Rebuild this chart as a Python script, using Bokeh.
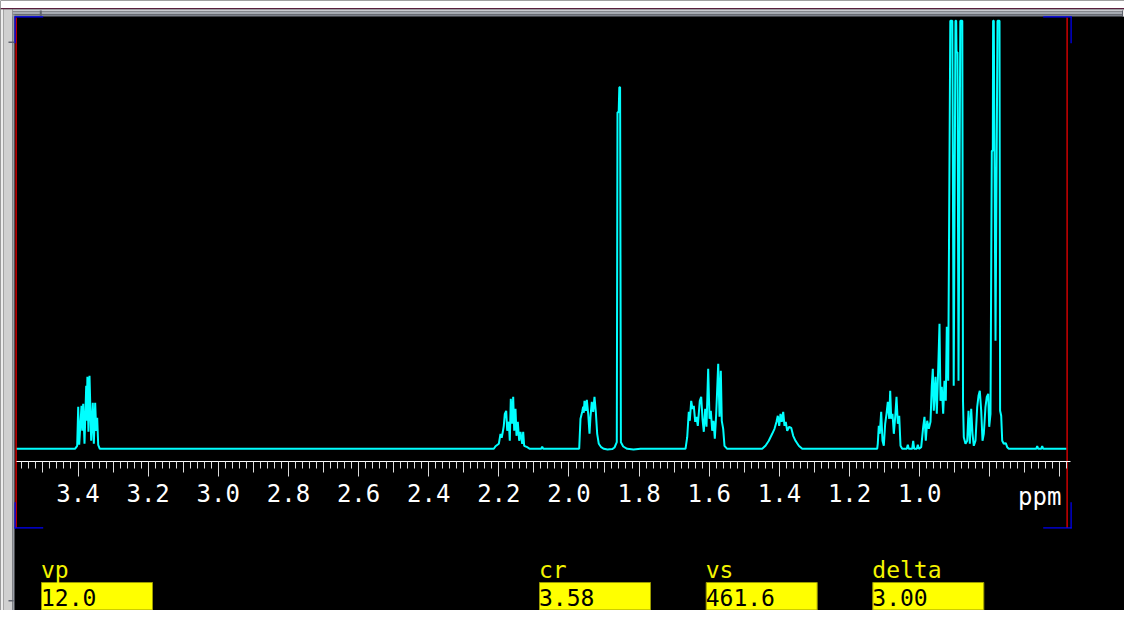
from bokeh.plotting import figure
from bokeh.models import (Range1d, LinearAxis, FixedTicker, PrintfTickFormatter,
                          CustomJSTickFormatter, Label)
from bokeh.embed import file_html
from bokeh.resources import INLINE

W, H = 1124, 610

# ---------------- spectrum data (chemical shift in ppm, intensity a.u.) -------------
ppm_start, int_start = [3.576], [0]

ppm_A = [3.4086, 3.4023, 3.3994, 3.3966, 3.3900, 3.3877, 3.3852, 3.3815, 3.3766, 3.3752,
         3.3732, 3.3703, 3.3672, 3.3624, 3.3578, 3.3549, 3.3510, 3.3481, 3.3453, 3.3424, 3.3378]
int_A = [0, 3, 42, 4, 43, 18, 45, 5, 63, 28, 72, 17, 73, 8, 46, 5, 46, 18, 31, 4, 0]

ppm_B = [2.2144, 2.2095, 2.2001, 2.1953, 2.1919, 2.1887, 2.1859, 2.1830, 2.1790, 2.1762,
         2.1716, 2.1688, 2.1659, 2.1619, 2.1591, 2.1562, 2.1525, 2.1497, 2.1460, 2.1420,
         2.1383, 2.1334, 2.1306, 2.1278, 2.1192, 2.1117, 2.0792, 2.0764, 2.0735]
int_B = [0, 2.6, 5, 15, 11, 17, 23, 35, 38, 18, 27, 8, 50, 25, 52, 18, 40, 13, 27, 8,
         17, 5, 17, 3, 1.6, 0, 0, 2, 0]

ppm_C = [1.9709, 1.9672, 1.9623, 1.9595, 1.9578, 1.9558, 1.9521, 1.9492, 1.9452, 1.9415,
         1.9387, 1.9350, 1.9310, 1.9273, 1.9235, 1.9196, 1.9150, 1.9082, 1.9007, 1.8902, 1.8768]
int_C = [0, 30, 37, 42, 36, 48, 38, 49, 35, 15, 32, 47, 37, 52, 37, 15, 5, 1.6, 0, -0.7, -0.3]

ppm_S = [1.8702, 1.8637, 1.8617, 1.8583, 1.8565, 1.8543, 1.8520, 1.8454, 1.8340, 1.8161, 1.7961]
int_S = [1.3, 6.6, 336.6, 336.6, 361.6, 361.6, 6.6, 2.3, 0, -0.7, 0]

ppm_D = [1.6678, 1.6629, 1.6584, 1.6555, 1.6515, 1.6478, 1.6441, 1.6401, 1.6364, 1.6327,
         1.6270, 1.6230, 1.6193, 1.6156, 1.6116, 1.6079, 1.6031, 1.5993, 1.5956, 1.5916,
         1.5879, 1.5842, 1.5802, 1.5745, 1.5708, 1.5671, 1.5643, 1.5603, 1.5566, 1.5489]
int_D = [0, 11.6, 37, 28, 48, 40, 43, 27, 32, 23, 48, 52, 30, 17, 40, 22, 80, 30, 38, 18,
         28, 10, 35, 85, 32, 78, 28, 20, 3, 0]

ppm_E = [1.4491, 1.4397, 1.4303, 1.4206, 1.4140, 1.4083, 1.4046, 1.4006, 1.3969, 1.3932,
         1.3892, 1.3855, 1.3818, 1.3778, 1.3721, 1.3664, 1.3607, 1.3541, 1.3447, 1.3350]
int_E = [0, 3, 8, 15, 20, 27, 33, 23, 35, 27, 37, 23, 27, 18, 22, 21, 13, 8, 3, 0]

ppm_F = [1.1212, 1.1195, 1.1166, 1.1138, 1.1098, 1.1061, 1.1023, 1.0984, 1.0946, 1.0909,
         1.0869, 1.0841, 1.0812, 1.0775, 1.0738, 1.0698, 1.0661, 1.0624, 1.0584, 1.0547,
         1.0499, 1.0368, 1.0339, 1.0311, 1.0214, 1.0185, 1.0157, 1.0082, 1.0054, 1.0025]
int_F = [0, 5, 23, 15, 37, 8, 3, 25, 35, 47, 30, 58, 30, 35, 15, 32, 52, 25, 33, 3,
         0, 0, 4, 0, 0, 8, 0, 0, 4, 0]

ppm_G = [0.9957, 0.9900, 0.9863, 0.9826, 0.9786, 0.9740, 0.9692, 0.9655, 0.9626, 0.9598,
         0.9549, 0.9512, 0.9472, 0.9435, 0.9407, 0.9370, 0.9330, 0.9293, 0.9256, 0.9227,
         0.9187, 0.9127, 0.9070, 0.9030, 0.8979, 0.8959, 0.8950, 0.8922, 0.8893, 0.8842,
         0.8785, 0.8765, 0.8742, 0.8694, 0.8645, 0.8608, 0.8571, 0.8531, 0.8494, 0.8457,
         0.8409, 0.8360, 0.8323, 0.8286, 0.8246, 0.8209, 0.8172, 0.8124, 0.8087, 0.8047,
         0.8018, 0.7981, 0.7944, 0.7915, 0.7907, 0.7887, 0.7838, 0.7781, 0.7724, 0.7707,
         0.7676, 0.7647, 0.7602, 0.7545, 0.7505, 0.7459]
int_G = [1.6, 22, 32, 8, 28, 20, 27, 63, 80, 38, 72, 35, 80, 125, 48, 62, 35, 68, 48, 122,
         68, 428, 428, 63, 428, 428, 396.6, 396.6, 68, 428, 428, 48, 11.6, 5, 8, 38, 5, 40, 15, 3,
         8, 42, 53, 58, 38, 8, 15, 42, 52, 55, 22, 35, 298, 298, 428, 428, 108, 428, 428, 38,
         33, 8, 5, 5.6, 1.6, 0]

ppm_T = [0.6678, 0.6649, 0.6621, 0.6535, 0.6507, 0.6478]
int_T = [0, 2.6, 0, 0, 2.6, 0]

ppm_end, int_end = [0.5814], [0]

shift = ppm_start + ppm_A + ppm_B + ppm_C + ppm_S + ppm_D + ppm_E + ppm_F + ppm_G + ppm_T + ppm_end
inten = int_start + int_A + int_B + int_C + int_S + int_D + int_E + int_F + int_G + int_T + int_end

# axis ticks
labeled_ticks = [3.4, 3.2, 3.0, 2.8, 2.6, 2.4, 2.2, 2.0, 1.8, 1.6, 1.4, 1.2, 1.0]
unlabeled_long_ticks = [0.8, 0.6]
medium_ticks = [3.5, 3.3, 3.1, 2.9, 2.7, 2.5, 2.3, 2.1, 1.9, 1.7, 1.5, 1.3, 1.1, 0.9, 0.7]
minor_ticks = [round(3.56 - 0.02 * i, 2) for i in range(150)]
axis_unit = "ppm"

# parameter panel
param_names = ["vp", "cr", "vs", "delta"]
param_values = ["12.0", "3.58", "461.6", "3.00"]

# ---------------- figure (layout coordinates = window pixels) ----------------
p = figure(width=W, height=H,
           x_range=Range1d(3.6210, 0.4160), y_range=Range1d(H, 0),
           x_axis_location=None, y_axis_location=None,
           toolbar_location=None, output_backend="svg",
           background_fill_color="black", border_fill_color="black",
           outline_line_color=None, min_border=0)
p.extra_x_ranges = {"px": Range1d(0, W)}
p.extra_y_ranges = {"int": Range1d(-161.7, 448.3)}
p.xgrid.grid_line_color = None
p.ygrid.grid_line_color = None
p.grid.visible = False

# window chrome
chrome = [
    (0, W, 0, 8, "#ffffff"),
    (0, W, 7.6, 8.8, "#5a1e3c"),
    (12, W, 8.8, 11, "#c8cacf"),
    (12, W, 11, 14, "#a6aab2"),
    (12, W, 14, 16, "#7e828c"),
    (0, 3, 8.8, H, "#ececec"),
    (3, 12, 8.8, H, "#d0d0d0"),
    (12, 14, 14, H, "#9a9ea6"),
    (39.3, 41.3, 10, 16, "#60646e"),
    (8, 14, 41, 42.5, "#60646e"),
    (8, 13, 599.5, 601, "#60646e"),
    (1121.5, 1122.5, 10, 16, "#60646e"),
    (1122.5, 1124, 10, 16, "#eeeeee"),
]
p.quad(left=[c[0] for c in chrome], right=[c[1] for c in chrome],
       top=[c[2] for c in chrome], bottom=[c[3] for c in chrome],
       fill_color=[c[4] for c in chrome], line_color=None, x_range_name="px")

# spectrum trace
p.line(x=shift, y=inten, y_range_name="int", line_color="#00ffff", line_width=2)

# red frame lines and blue corner brackets
marks = [
    (15, 16.2, 17, 527.5, "#ff0000"),
    (1066, 1067.2, 17, 527.5, "#ff0000"),
    (14, 42.7, 15.7, 16.9, "#0000ff"), (14, 15.2, 16, 42.7, "#0000ff"),
    (1042.7, 1071.2, 15.7, 16.9, "#0000ff"), (1070, 1071.2, 16, 42.7, "#0000ff"),
    (14, 15.2, 501.7, 528, "#0000ff"), (14, 42.7, 526.8, 528, "#0000ff"),
    (1070, 1071.2, 501.7, 528, "#0000ff"), (1042.7, 1071.2, 526.8, 528, "#0000ff"),
]
p.quad(left=[m[0] for m in marks], right=[m[1] for m in marks],
       top=[m[2] for m in marks], bottom=[m[3] for m in marks],
       fill_color=[m[4] for m in marks], line_color=None, x_range_name="px")

# ppm axis (three tiers of ticks, all at the same fixed location)
AXIS_Y = 461
BOUNDS = (0.570, 3.576)
FONT = "DejaVu Sans Mono"

ax_med = LinearAxis(ticker=FixedTicker(ticks=medium_ticks, minor_ticks=[]),
                    fixed_location=AXIS_Y, bounds=BOUNDS,
                    formatter=CustomJSTickFormatter(code="return ''"))
ax_long = LinearAxis(ticker=FixedTicker(ticks=unlabeled_long_ticks, minor_ticks=[]),
                     fixed_location=AXIS_Y, bounds=BOUNDS,
                     formatter=CustomJSTickFormatter(code="return ''"))
for ax, L in ((ax_med, 11), (ax_long, 15)):
    ax.axis_line_color = None
    ax.major_tick_line_color = "#dcdcdc"
    ax.major_tick_in = 0
    ax.major_tick_out = L
    ax.minor_tick_line_color = None
    ax.major_label_text_font_size = "1px"
    p.add_layout(ax, "below")

ax = LinearAxis(ticker=FixedTicker(ticks=labeled_ticks, minor_ticks=minor_ticks),
                fixed_location=AXIS_Y, bounds=BOUNDS,
                formatter=PrintfTickFormatter(format="%.1f"))
ax.axis_line_color = "#ffffff"
ax.axis_line_width = 1.2
ax.major_tick_line_color = "#dcdcdc"
ax.major_tick_in = 0
ax.major_tick_out = 15
ax.minor_tick_line_color = "#dcdcdc"
ax.minor_tick_in = 0
ax.minor_tick_out = 7
ax.major_label_text_font = FONT
ax.major_label_text_font_size = "24px"
ax.major_label_text_color = "#ffffff"
ax.major_label_standoff = 7
p.add_layout(ax, "below")

p.add_layout(Label(x=1017.6, y=496.5, x_range_name="px", text=axis_unit,
                   text_font=FONT, text_font_size="24px", text_color="#ffffff",
                   text_baseline="alphabetic"))

# parameter panel
box_left = [41, 539, 705.7, 872.3]
box_width = 111
p.quad(left=box_left, right=[b + box_width for b in box_left],
       top=[582] * 4, bottom=[609.5] * 4,
       fill_color="#ffff00", line_color="#9a9a00", line_width=1, x_range_name="px")
for bl, name, val in zip(box_left, param_names, param_values):
    p.add_layout(Label(x=bl - 0.5, y=569.5, x_range_name="px", text=name,
                       text_font=FONT, text_font_size="23px", text_color="#f4f400",
                       text_baseline="alphabetic"))
    p.add_layout(Label(x=bl - 0.5, y=596.5, x_range_name="px", text=val,
                       text_font=FONT, text_font_size="23px", text_color="#000000",
                       text_baseline="alphabetic"))

open("out.html", "w").write(file_html(p, INLINE))
